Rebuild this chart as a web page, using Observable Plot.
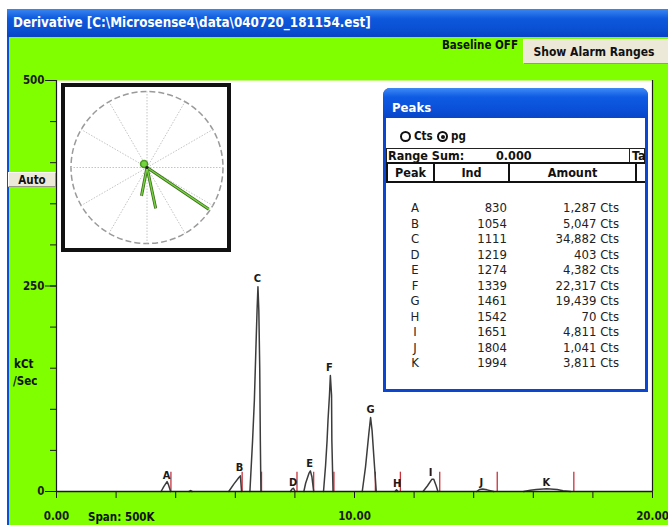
<!DOCTYPE html>
<html><head><meta charset="utf-8">
<script src="https://cdn.jsdelivr.net/npm/d3@7"></script>
<script src="https://cdn.jsdelivr.net/npm/@observablehq/plot@0.6"></script>
<style>
html,body{margin:0;padding:0;background:#fff;width:668px;height:525px;overflow:hidden;}
#wrap{position:relative;width:668px;height:525px;overflow:hidden;}
.abs{position:absolute;}
.b{font-family:"DejaVu Sans Condensed","DejaVu Sans",sans-serif;font-weight:bold;color:#111;white-space:nowrap;}
#titlebar{left:7px;top:9px;width:661px;height:28px;background:linear-gradient(#3a86f2,#0d58dc 35%,#0a4fd2 75%,#0944c4);color:#fff;font-size:13.3px;line-height:27px;padding-left:6px;box-sizing:border-box;}
.btn{background:#ece9d8;border-top:1px solid #fff;border-left:1px solid #fff;border-right:1px solid #9a978a;border-bottom:1px solid #9a978a;box-sizing:border-box;text-align:center;}
#inset{left:61px;top:83px;width:170px;height:169px;border:4px solid #111;box-sizing:border-box;background:#fff;}
#peaks{left:383px;top:88px;width:265px;height:304px;background:#0a46d2;border-radius:7px 7px 0 0;overflow:hidden;}
#peaks .tb{left:0;top:0;width:265px;height:30px;background:linear-gradient(#3d8af7,#0f5be3 30%,#0a50d8 70%,#0846c8);}
#peaks .body{left:3px;top:30px;width:259px;height:271px;background:#fff;overflow:hidden;}
.radio{position:absolute;width:11px;height:11px;border:2px solid #111;border-radius:50%;box-sizing:border-box;}
.row{position:absolute;font-family:"Liberation Sans Narrow","DejaVu Sans Condensed",sans-serif;font-size:13px;color:#222;line-height:15px;white-space:nowrap;}
</style></head>
<body><div id="wrap">
<div id="chart" class="abs" style="left:0;top:0"></div>
<div class="abs" style="left:0;top:0;width:668px;height:9px;background:#fff"></div>
<div class="abs" style="left:0;top:0;width:7px;height:525px;background:#fff"></div>
<div class="abs" style="left:7px;top:9px;width:2px;height:516px;background:#0b4fd8"></div>
<div id="titlebar" class="abs b">Derivative [C:\Microsense4\data\040720_181154.est]</div>
<div class="abs b" style="left:420px;top:38px;width:98px;height:14px;line-height:14px;text-align:right;font-size:11.5px">Baseline OFF</div>
<div class="abs b btn" style="left:523px;top:39px;width:150px;height:25px;line-height:24px;padding-right:8px;font-size:12px">Show Alarm Ranges</div>
<div class="abs b btn" style="left:8px;top:172px;width:48px;height:15px;line-height:14px;font-size:11.5px">Auto</div>
<div class="abs b" style="left:14px;top:357px;font-size:11.5px;line-height:14px">kCt</div>
<div class="abs b" style="left:13px;top:374px;font-size:11.5px;line-height:14px">/Sec</div>
<div class="abs b" style="left:88px;top:510px;font-size:11.5px;line-height:14px">Span: 500K</div>
<div id="inset" class="abs"></div>
<div id="peaks" class="abs">
  <div class="abs tb"></div>
  <div class="abs b" style="left:9px;top:12px;color:#fff;font-size:13px;line-height:16px">Peaks</div>
  <div class="abs body" id="pbody"></div>
</div>
</div>
<script>
// ---------- data ----------
const peakNames   = ["A","B","C","D","E","F","G","H","I","J","K"];
const peakInd     = [830,1054,1111,1219,1274,1339,1461,1542,1651,1804,1994];
const peakCts     = [1287,5047,34882,403,4382,22317,19439,70,4811,1041,3811];
// label positions on the trace (time, kCt/Sec)
const peakTime    = [3.69,6.14,6.74,7.94,8.49,9.16,10.54,11.43,12.55,14.26,16.44];
const peakLabelY  = [19.5,29.6,259,11.3,34.7,151,100,10,23.4,11.3,11.3];
// integration boundaries (red marks)
const redLines    = [3.84,6.23,6.88,8.07,8.63,9.31,10.70,11.54,12.86,14.79,17.36];
const redTop      = 23.5;
// traces [time, kCt/Sec]
const traceA = [[3.51,0],[3.60,6],[3.71,12],[3.76,8],[3.83,0]];
const traceB = [[5.78,0],[5.95,9],[6.12,17],[6.17,19],[6.21,0]];
const traceC = [[6.49,0],[6.58,62],[6.64,111],[6.69,172],[6.73,220],[6.76,249],[6.79,220],[6.82,150],[6.84,62],[6.86,0]];
const traceD = [[7.85,0],[7.90,3],[7.95,4],[8.01,0]];
const traceE = [[8.30,0],[8.36,10],[8.47,22],[8.52,25],[8.57,18],[8.63,0]];
const traceF = [[8.96,0],[9.03,32],[9.08,62],[9.11,86],[9.16,117],[9.19,141],[9.23,117],[9.24,62],[9.28,0]];
const traceG = [[10.26,0],[10.37,30],[10.48,70],[10.54,90],[10.59,74],[10.65,42],[10.73,0]];
const traceH = [[11.36,0],[11.41,2],[11.46,0]];
const traceI = [[12.30,0],[12.45,7],[12.60,15],[12.66,15],[12.74,7],[12.80,0]];
const traceJ = [[14.10,0],[14.20,2.5],[14.30,3],[14.45,2],[14.67,0]];
const traceK = [[15.68,0],[15.90,1.5],[16.10,2.5],[16.45,3.3],[16.80,2.3],[17.00,1],[17.25,0]];
const blip   = [[4.45,0],[4.50,1.2],[4.55,0]];
// axes
const xTicks      = [0,2,4,6,8,10,12,14,16,18,20];
const xTickLabels = [0,10,20];
const yTicks      = [0,50,100,150,200,250,300,350,400,450,500];
const yTickLabels = [0,250,500];
// polar inset
const spokeAngles = [0,30,60,90,120,150,180,210,240,270,300,330];
const vecAngle    = [124,168,191];
const vecMag      = [0.98,0.55,0.38];
const blobAngle   = 320, blobMag = 0.06;
// table header
const rangeSum = "0.000";

// ---------- main chart ----------
const traces = [traceA,traceB,traceC,traceD,traceE,traceF,traceG,traceH,traceI,traceJ,traceK,blip]
  .flatMap((t,i)=>t.map(([x,y])=>({x,y,k:i})));
const peaks = peakNames.map((n,i)=>({n,x:peakTime[i],y:peakLabelY[i]}));
const ink = "#1a1a1a";
const chart = Plot.plot({
  width:668, height:525,
  marginLeft:56, marginRight:16, marginTop:80, marginBottom:34,
  style:{background:"#80ff00",fontFamily:"'DejaVu Sans Condensed','DejaVu Sans',sans-serif",fontWeight:"bold",color:ink},
  x:{domain:[0,20],label:null},
  y:{domain:[0,500],label:null},
  marks:[
    Plot.frame({fill:"white",stroke:"none"}),
    Plot.ruleX([0,20],{stroke:ink,strokeWidth:1.2}),
    Plot.axisY({ticks:yTicks,tickSize:6,label:null,stroke:ink,fill:"none"}),
    Plot.axisY({ticks:yTickLabels,tickSize:11,tickPadding:1,fontSize:11.5,label:null,stroke:ink,fill:ink}),
    Plot.axisX({ticks:xTicks,tickSize:7,label:null,stroke:ink,fill:"none"}),
    Plot.axisX({ticks:xTickLabels,tickSize:0,tickPadding:20,fontSize:11.5,label:null,tickFormat:d3.format(".2f"),fill:ink}),
    Plot.ruleX(redLines,{y1:0,y2:redTop,stroke:"#c8323c",strokeWidth:1.3}),
    Plot.line(traces,{x:"x",y:"y",z:"k",stroke:"#3c3c3c",strokeWidth:1.5}),
    Plot.ruleY([0],{stroke:ink,strokeWidth:1.5}),
    Plot.text(peaks,{x:"x",y:"y",text:"n",fontSize:11,fill:ink})
  ]
});
document.getElementById("chart").append(chart);

// ---------- polar inset ----------
const rad = a=>a*Math.PI/180;
const spokes = spokeAngles.map(a=>({a,x:Math.sin(rad(a)),y:Math.cos(rad(a))}));
const vecs = vecAngle.map((a,i)=>({x:vecMag[i]*Math.sin(rad(a)),y:vecMag[i]*Math.cos(rad(a))}));
const inset = Plot.plot({
  width:162, height:161,
  marginLeft:5.5, marginRight:4.5, marginTop:4, marginBottom:5,
  x:{domain:[-1,1],axis:null}, y:{domain:[-1,1],axis:null},
  style:{background:"white"},
  marks:[
    Plot.dot([0],{x:()=>0,y:()=>0,r:76,stroke:"#9a9a9a",strokeDasharray:"6,3",fill:"none"}),
    Plot.link(spokes,{x1:()=>0,y1:()=>0,x2:"x",y2:"y",stroke:"#c4c4c4",strokeDasharray:"1.5,1.5"}),
    Plot.link(vecs,{x1:()=>0,y1:()=>0,x2:"x",y2:"y",stroke:"#3d6a1c",strokeWidth:3}),
    Plot.link(vecs,{x1:()=>0,y1:()=>0,x2:"x",y2:"y",stroke:"#74d43e",strokeWidth:1.4}),
    Plot.dot([0],{x:()=>blobMag*Math.sin(rad(blobAngle)),y:()=>blobMag*Math.cos(rad(blobAngle)),r:3.5,fill:"#74d43e",stroke:"#4a9a20"}),
    Plot.dot([0],{x:()=>0,y:()=>0,r:1.6,fill:"#222"})
  ]
});
document.getElementById("inset").append(inset);

// ---------- peaks table ----------
const body = document.getElementById("pbody");
const fmt = d3.format(",");
let html = "";
html += `<div class="radio" style="left:14px;top:13px"></div>`;
html += `<div class="abs b" style="left:28px;top:10px;font-size:11.5px;line-height:16px">Cts</div>`;
html += `<div class="radio" style="left:51px;top:13px"><div style="position:absolute;left:1.5px;top:1.5px;width:4px;height:4px;border-radius:50%;background:#111"></div></div>`;
html += `<div class="abs b" style="left:65px;top:10px;font-size:11.5px;line-height:16px">pg</div>`;
html += `<div class="abs" style="left:0;top:30px;width:259px;height:15px;border:1px solid #222;box-sizing:border-box"></div>`;
html += `<div class="abs b" style="left:2px;top:30px;font-size:12.5px;line-height:15px">Range Sum:</div>`;
html += `<div class="abs b" style="left:110px;top:30px;font-size:12.5px;line-height:15px">${rangeSum}</div>`;
html += `<div class="abs" style="left:243px;top:30px;width:1px;height:15px;background:#222"></div>`;
html += `<div class="abs b" style="left:246px;top:30px;font-size:12.5px;line-height:15px">Ta</div>`;
html += `<div class="abs" style="left:0;top:44px;width:259px;height:21px;border-top:2px solid #111;border-bottom:2px solid #111;box-sizing:border-box"></div>`;
[[0,47,"Peak"],[47,75,"Ind"],[122,127,"Amount"],[249,10,""]].forEach(([l,w,t])=>{
  html += `<div class="abs b" style="left:${l}px;top:44px;width:${w}px;height:21px;line-height:21px;text-align:center;font-size:12.5px;border-left:2px solid #111;box-sizing:border-box">${t}</div>`;
});
peakNames.forEach((n,i)=>{
  const top = 82 + i*15.5;
  html += `<div class="row" style="left:17px;top:${top}px;width:24px;text-align:center">${n}</div>`;
  html += `<div class="row" style="left:61px;top:${top}px;width:60px;text-align:right">${peakInd[i]}</div>`;
  html += `<div class="row" style="left:133px;top:${top}px;width:100px;text-align:right">${fmt(peakCts[i])} Cts</div>`;
});
body.innerHTML = html;
</script>
</body></html>
